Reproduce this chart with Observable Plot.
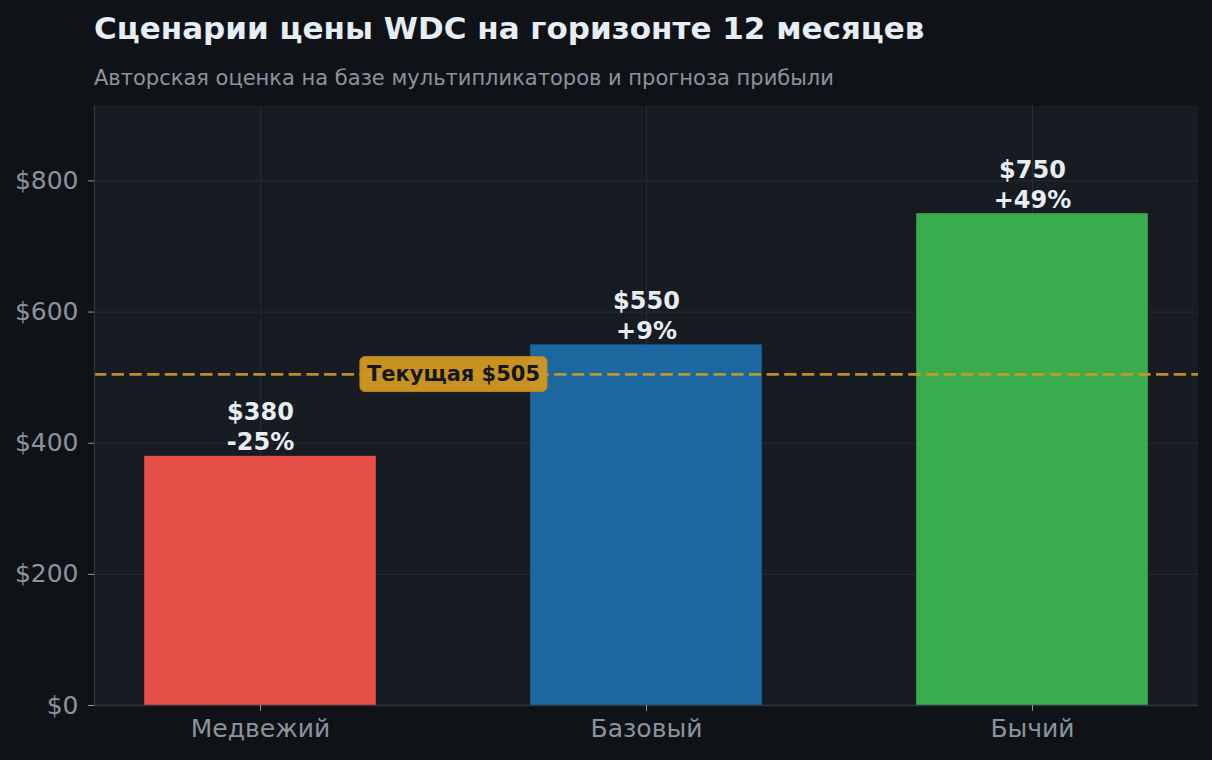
<!DOCTYPE html>
<html><head><meta charset="utf-8">
<script src="https://cdn.jsdelivr.net/npm/d3@7"></script>
<script src="https://cdn.jsdelivr.net/npm/@observablehq/plot@0.6"></script>
<style>
body{margin:0;background:#0f1317;width:1212px;height:760px;overflow:hidden;font-family:"DejaVu Sans",sans-serif}
#head{position:relative;height:95px}
#title{position:absolute;left:94px;top:10px;font-size:31px;font-weight:bold;color:#e6edf3;white-space:nowrap;line-height:1.2}
#sub{position:absolute;left:94px;top:66px;font-size:21px;color:#8b949e;white-space:nowrap;line-height:1.2}
#chart svg{display:block}
</style></head><body>
<div id="head">
<div id="title">Сценарии цены WDC на горизонте 12 месяцев</div>
<div id="sub">Авторская оценка на базе мультипликаторов и прогноза прибыли</div>
</div>
<div id="chart"></div>
<script>
const scenarios = ["Медвежий", "Базовый", "Бычий"];
const prices = [380, 550, 750];
const changes = ["-25%", "+9%", "+49%"];
const barColors = ["#e54f48", "#1c679f", "#3bac4d"];
const currentPrice = 505;
const currentLabel = "Текущая $505";
const yTicks = [0, 200, 400, 600, 800];

const data = scenarios.map((s, i) => ({i, s, price: prices[i], change: changes[i], color: barColors[i]}));
const half = 0.3;
const xDomain = [-0.43, 2.43];
const idx = scenarios.map((_, i) => i);

const chart = Plot.plot({
  width: 1212, height: 665,
  marginTop: 10, marginBottom: 55, marginLeft: 94, marginRight: 14,
  style: {background: "transparent", fontFamily: "DejaVu Sans", fontSize: "25px", color: "#8b949e", overflow: "visible"},
  x: {domain: xDomain, label: null},
  y: {domain: [0, 915], label: null},
  color: {type: "identity"},
  marks: [
    Plot.frame({fill: "#171b22", stroke: null}),
    Plot.gridY(yTicks, {stroke: "#272c34", strokeOpacity: 1, strokeWidth: 1}),
    Plot.gridX(idx, {stroke: "#272c34", strokeOpacity: 1, strokeWidth: 1}),
    Plot.rectY(data, {x1: d => d.i - half, x2: d => d.i + half, y1: 0, y2: "price", fill: "color"}),
    Plot.ruleY([currentPrice], {stroke: "#d29922", strokeOpacity: 0.9, strokeWidth: 2.8, strokeDasharray: "12.3,5.4"}),
    Plot.text(data, {x: "i", y: "price", text: d => `$${d.price}\n${d.change}`, lineAnchor: "bottom", lineHeight: 1.25, dy: -6, fill: "#e6edf3", fontWeight: "bold", fontSize: 24}),
    Plot.text([currentPrice], {x: 0.5, y: d => d, text: () => currentLabel, fill: "#14171c", fontWeight: "bold", fontSize: 21, ariaDescription: "current-price-label"}),
    Plot.ruleX([xDomain[0]], {stroke: "#30363d", strokeWidth: 1.3}),
    Plot.ruleY([0], {stroke: "#30363d", strokeWidth: 1.3}),
    Plot.axisY(yTicks, {tickFormat: d => "$" + d, tickSize: 6, tickPadding: 10, stroke: "#8b949e", fill: "#8b949e", fontSize: 25, label: null}),
    Plot.axisX(idx, {tickFormat: i => scenarios[i], tickSize: 6, tickPadding: 8, stroke: "#8b949e", fill: "#8b949e", fontSize: 25, label: null})
  ]
});
document.getElementById("chart").appendChild(chart);

// rounded background box behind the current-price label
d3.select(chart).selectAll('g[aria-description="current-price-label"] text').each(function() {
  const b = this.getBBox();
  const padX = 7, padY = 5.5;
  d3.select(this.parentNode).insert("rect", () => this)
    .attr("transform", this.getAttribute("transform"))
    .attr("x", b.x - padX).attr("y", b.y - padY)
    .attr("width", b.width + 2 * padX).attr("height", b.height + 2 * padY)
    .attr("rx", 5).attr("ry", 5)
    .attr("fill", "#d29922").attr("fill-opacity", 0.95)
    .attr("stroke", "#b8861c").attr("stroke-width", 1);
});
</script>
</body></html>
